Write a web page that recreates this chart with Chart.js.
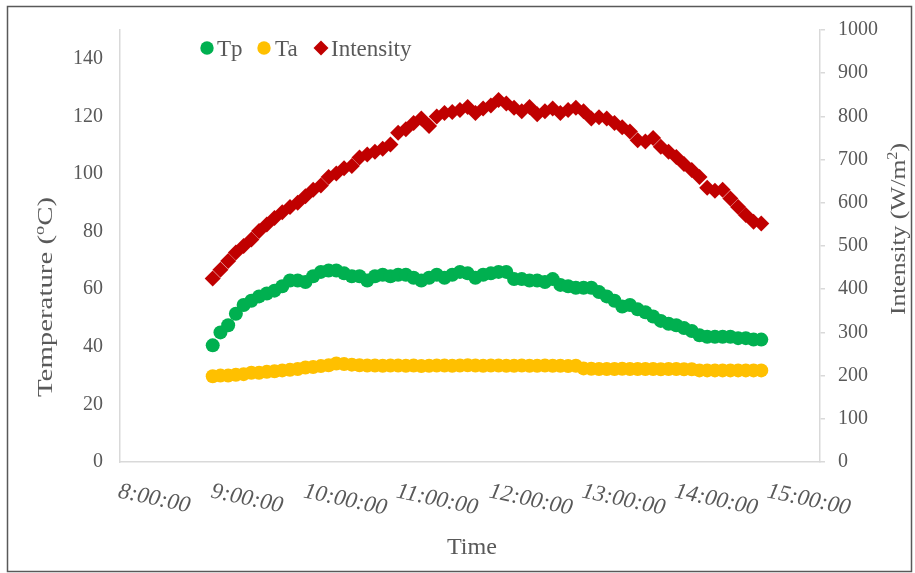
<!DOCTYPE html>
<html lang="en">
<head>
  <meta charset="UTF-8" />
  <title>Tp, Ta and Intensity vs Time</title>
  <script src="https://cdn.jsdelivr.net/npm/chart.js"></script>
  <style>
    body { margin: 0; background: #fff; }
    #wrap { width: 915px; height: 573px; position: relative; }
  </style>
</head>
<body>
  <div id="wrap"><canvas id="grafico" width="915" height="573"></canvas></div>

  <script>
    // sample times, every 5 minutes
    const times = [
      "9:00","9:05","9:10","9:15","9:20","9:25","9:30","9:35","9:40","9:45","9:50","9:55",
      "10:00","10:05","10:10","10:15","10:20","10:25","10:30","10:35","10:40","10:45","10:50","10:55",
      "11:00","11:05","11:10","11:15","11:20","11:25","11:30","11:35","11:40","11:45","11:50","11:55",
      "12:00","12:05","12:10","12:15","12:20","12:25","12:30","12:35","12:40","12:45","12:50","12:55",
      "13:00","13:05","13:10","13:15","13:20","13:25","13:30","13:35","13:40","13:45","13:50","13:55",
      "14:00","14:05","14:10","14:15","14:20","14:25","14:30","14:35","14:40","14:45","14:50","14:55"
    ];

    // panel temperature (oC)
    const tp = [
      40.5, 45, 47.5, 51.5, 54.5, 56, 57.5, 58.5, 59.5, 61, 63, 63,
      62.5, 64.5, 66, 66.5, 66.5, 65.5, 64.5, 64.5, 63, 64.5, 65, 64.5,
      65, 65, 64, 63, 64, 65, 64, 65, 66, 65.5, 64, 65,
      65.5, 66, 66, 63.5, 63.5, 63, 63, 62.5, 63.5, 61.5, 61, 60.5,
      60.5, 60.5, 59, 57.5, 56, 54, 54.5, 53, 52, 50.5, 49, 48,
      47.5, 46.5, 45.5, 44, 43.5, 43.5, 43.5, 43.5, 43, 43, 42.5, 42.5
    ];

    // ambient temperature (oC)
    const ta = [
      29.8, 30, 30, 30.3, 30.5, 31, 31, 31.3, 31.5, 31.8, 32, 32.3,
      32.8, 33, 33.3, 33.6, 34.2, 34, 33.8, 33.6, 33.5, 33.5, 33.4, 33.5,
      33.5, 33.4, 33.5, 33.3, 33.4, 33.5, 33.5, 33.4, 33.5, 33.6, 33.5, 33.4,
      33.5, 33.5, 33.4, 33.4, 33.5, 33.4, 33.4, 33.5, 33.4, 33.4, 33.3, 33.4,
      32.5, 32.4, 32.3, 32.3, 32.3, 32.4, 32.3, 32.3, 32.3, 32.3, 32.2, 32.3,
      32.3, 32.2, 32.2, 31.8, 31.8, 31.8, 31.8, 31.8, 31.8, 31.8, 31.8, 31.8
    ];

    // solar intensity (W/m2)
    const intensity = [
      425, 445, 465, 485, 500, 515, 535, 550, 565, 578, 590, 600,
      615, 630, 640, 660, 668, 680, 685, 705, 712, 718, 725, 735,
      762, 770, 785, 795, 778, 800, 808, 810, 815, 822, 808, 818,
      825, 838, 830, 820, 812, 822, 805, 812, 818, 808, 815, 820,
      812, 795, 798, 795, 785, 775, 765, 745, 742, 750, 730, 718,
      706, 690, 676, 660, 635, 628, 630, 610, 590, 572, 556, 552
    ];

    const hourTicks = [8, 9, 10, 11, 12, 13, 14, 15];
    const tempTicks = [0, 20, 40, 60, 80, 100, 120, 140];

    const gris = "#595959";
    const serif = "'Liberation Serif', 'Times New Roman', serif";

    function aHoras(s) {
      const p = s.split(":");
      return parseInt(p[0]) + parseInt(p[1]) / 60;
    }
    const pares = arr => times.map((t, i) => ({ x: aHoras(t), y: arr[i] }));

    // draws text stretched along its own baseline to a given length
    function textoEstirado(ctx, partes, largo) {
      let total = 0;
      partes.forEach(p => { ctx.font = p.font; total += ctx.measureText(p.t).width; });
      ctx.scale(largo / total, 1);
      let x = -total / 2;
      partes.forEach(p => {
        ctx.font = p.font;
        ctx.fillText(p.t, x, p.dy || 0);
        x += ctx.measureText(p.t).width;
      });
    }

    const decoracion = {
      id: "decoracion",
      beforeDraw(chart) {
        const ctx = chart.ctx;
        ctx.save();
        ctx.fillStyle = "#fff";
        ctx.fillRect(0, 0, chart.width, chart.height);
        ctx.strokeStyle = "#595959";
        ctx.lineWidth = 1.5;
        ctx.strokeRect(7.5, 6.5, 904, 565);
        ctx.restore();
      },
      afterDraw(chart) {
        const ctx = chart.ctx;
        const xs = chart.scales.x;
        ctx.save();
        ctx.fillStyle = gris;

        // x tick labels, slanted clockwise
        hourTicks.forEach(h => {
          const px = xs.getPixelForValue(h);
          ctx.save();
          ctx.translate(px + 1, 480);
          ctx.rotate(12 * Math.PI / 180);
          ctx.font = "italic 23px " + serif;
          ctx.textBaseline = "top";
          ctx.textAlign = "left";
          ctx.fillText(h + ":00:00", 0, 0);
          ctx.restore();
        });

        // axis titles
        ctx.textBaseline = "middle";
        ctx.textAlign = "left";
        const f = "22px " + serif, fs = "14px " + serif;

        ctx.save();
        ctx.translate(46, 297);
        ctx.rotate(-Math.PI / 2);
        textoEstirado(ctx, [
          { t: "Temperature (", font: f },
          { t: "o", font: fs, dy: -6 },
          { t: "C)", font: f }
        ], 200);
        ctx.restore();

        ctx.save();
        ctx.translate(899, 229);
        ctx.rotate(-Math.PI / 2);
        textoEstirado(ctx, [
          { t: "Intensity (W/m", font: f },
          { t: "2", font: fs, dy: -6 },
          { t: ")", font: f }
        ], 172);
        ctx.restore();

        ctx.save();
        ctx.translate(472, 548);
        textoEstirado(ctx, [{ t: "Time", font: "23px " + serif }], 50);
        ctx.restore();

        // legend inside the plot
        const items = [
          { ds: 0, mx: 207, tx: 217 },
          { ds: 1, mx: 264, tx: 275 },
          { ds: 2, mx: 321, tx: 331 }
        ];
        items.forEach(it => {
          const d = chart.data.datasets[it.ds];
          ctx.fillStyle = d.backgroundColor;
          ctx.beginPath();
          if (d.pointStyle === "rectRot") {
            ctx.moveTo(it.mx, 40.5); ctx.lineTo(it.mx + 7.5, 48);
            ctx.lineTo(it.mx, 55.5); ctx.lineTo(it.mx - 7.5, 48);
            ctx.closePath();
          } else {
            ctx.arc(it.mx, 48, 6.7, 0, Math.PI * 2);
          }
          ctx.fill();
          ctx.fillStyle = gris;
          ctx.font = "23px " + serif;
          ctx.textBaseline = "alphabetic";
          ctx.fillText(d.label, it.tx, 56);
        });
        ctx.restore();
      }
    };

    new Chart(document.getElementById("grafico"), {
      type: "scatter",
      data: {
        datasets: [
          { label: "Tp", data: pares(tp), yAxisID: "y", backgroundColor: "#00B050", borderColor: "#00B050",
            pointStyle: "circle", pointRadius: 7, borderWidth: 0 },
          { label: "Ta", data: pares(ta), yAxisID: "y", backgroundColor: "#FFC000", borderColor: "#FFC000",
            pointStyle: "circle", pointRadius: 7, borderWidth: 0 },
          { label: "Intensity", data: pares(intensity), yAxisID: "y2", backgroundColor: "#C00000", borderColor: "#C00000",
            pointStyle: "rectRot", pointRadius: 8, borderWidth: 0 }
        ]
      },
      options: {
        responsive: false,
        animation: false,
        layout: { padding: { left: 0, right: 0, top: 30, bottom: 0 } },
        plugins: { legend: { display: false }, tooltip: { enabled: false } },
        scales: {
          x: {
            type: "linear",
            min: 8,
            max: 15.55,
            afterBuildTicks: s => { s.ticks = hourTicks.map(v => ({ value: v })); },
            afterFit: s => { s.height = 111; },
            ticks: { display: false },
            grid: { display: false },
            border: { display: true, color: "#D9D9D9", width: 1.5 }
          },
          y: {
            position: "left",
            min: 0,
            max: 150,
            afterBuildTicks: s => { s.ticks = tempTicks.map(v => ({ value: v })); },
            afterFit: s => { s.width = 120; },
            ticks: { color: gris, padding: 17, font: { family: serif, size: 20 } },
            grid: { drawOnChartArea: false, drawTicks: false },
            border: { display: true, color: "#D9D9D9", width: 1.5 }
          },
          y2: {
            position: "right",
            min: 0,
            max: 1000,
            ticks: { stepSize: 100, color: gris, padding: 13, font: { family: serif, size: 20 },
              callback: v => String(v) },
            afterFit: s => { s.width = 95; },
            grid: { drawOnChartArea: false, drawTicks: true, tickLength: 5, color: "#D9D9D9", lineWidth: 1.5 },
            border: { display: true, color: "#D9D9D9", width: 1.5 }
          }
        }
      },
      plugins: [decoracion]
    });
  </script>
</body>
</html>
